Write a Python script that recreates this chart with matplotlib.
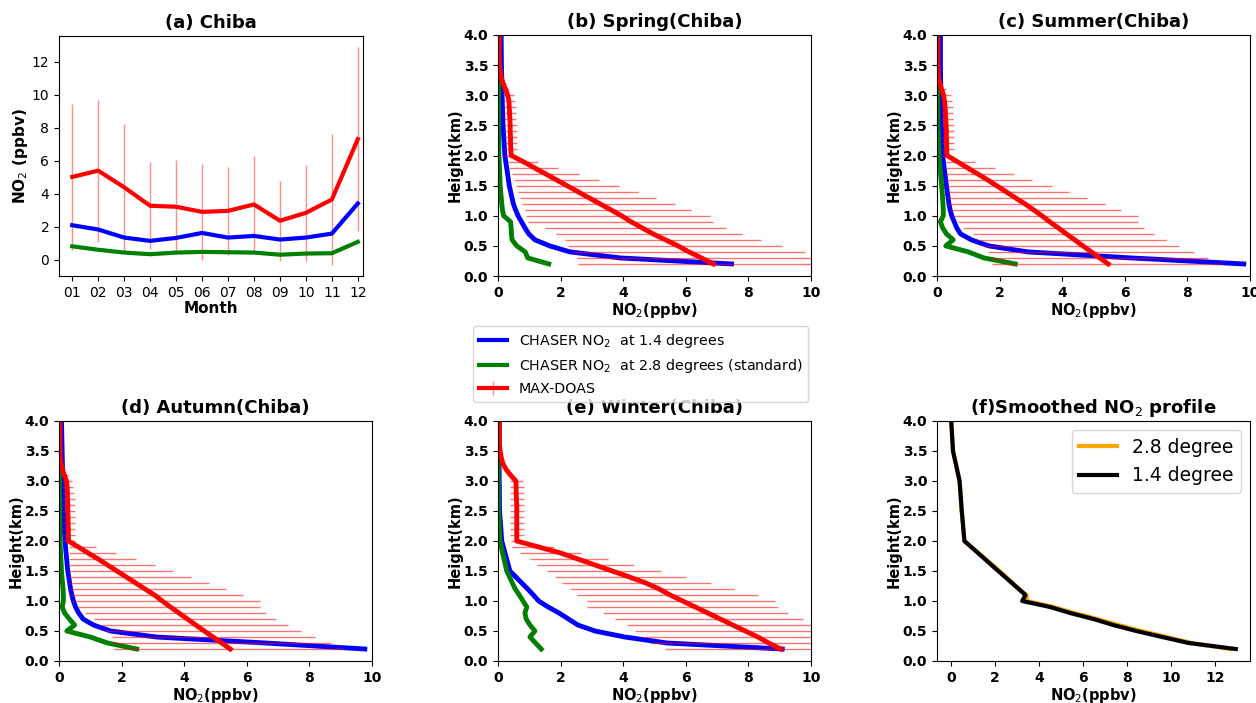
import numpy as np
import matplotlib
matplotlib.use("Agg")
import matplotlib.pyplot as plt

# ---- data ----
months = ["01", "02", "03", "04", "05", "06", "07", "08", "09", "10", "11", "12"]
m_doas = [5.02, 5.40, 4.39, 3.27, 3.21, 2.90, 2.96, 3.35, 2.36, 2.84, 3.65, 7.31]
m_doas_err = [4.42, 4.30, 3.85, 2.64, 2.85, 2.93, 2.66, 2.94, 2.43, 2.93, 3.98, 5.60]
m_chaser14 = [2.09, 1.83, 1.34, 1.14, 1.32, 1.62, 1.34, 1.44, 1.22, 1.34, 1.58, 3.41]
m_chaser28 = [0.81, 0.60, 0.43, 0.33, 0.43, 0.47, 0.45, 0.43, 0.30, 0.37, 0.39, 1.08]

# MAX-DOAS retrieval heights (km)
h_obs = [0.2, 0.3, 0.4, 0.5, 0.6, 0.7, 0.8, 0.9, 1.0, 1.1, 1.2, 1.3, 1.4, 1.5, 1.6, 1.7, 1.8, 1.9,
         2.0, 2.1, 2.2, 2.3, 2.4, 2.5, 2.6, 2.7, 2.8, 2.9,
         3.0, 3.1, 3.2, 3.3, 3.4, 3.5, 3.6, 3.7, 3.8, 3.9, 4.0]
# CHASER model heights (km)
h_mod = [0.2, 0.3, 0.4, 0.5, 0.6, 0.7, 0.8, 0.9, 1.0, 1.1, 1.2, 1.5, 2.0, 2.5, 3.0, 3.5, 4.0]

# spring
sp_doas = [6.88, 6.50, 6.10, 5.75, 5.35, 4.95, 4.60, 4.25, 3.95, 3.60, 3.25, 2.90, 2.55, 2.20, 1.85, 1.50, 1.15, 0.80,
           0.42, 0.41, 0.40, 0.40, 0.39, 0.39, 0.38, 0.37, 0.36, 0.35,
           0.31, 0.24, 0.16, 0.10, 0.07, 0.05, 0.04, 0.04, 0.04, 0.04, 0.04]
sp_lo = [2.56, 2.51, 2.35, 2.24, 2.14, 1.85, 1.50, 0.97, 0.91, 0.86, 0.76, 0.70, 0.63, 0.56, 0.52, 0.44, 0.35, 0.31,
         0.20, 0.20, 0.20, 0.20, 0.20, 0.20, 0.20, 0.20, 0.20, 0.20,
         0.15, 0.12, 0.08, 0.10, 0.07, 0.05, 0.04, 0.04, 0.04, 0.04, 0.04]
sp_hi = [11.2, 10.5, 9.80, 9.07, 8.41, 7.80, 7.28, 6.86, 6.77, 6.18, 5.65, 5.06, 4.46, 3.86, 3.23, 2.60, 1.93, 1.29,
         0.60, 0.62, 0.60, 0.60, 0.60, 0.60, 0.58, 0.58, 0.56, 0.55,
         0.50, 0.35, 0.25, 0.10, 0.07, 0.05, 0.04, 0.04, 0.04, 0.04, 0.04]
sp_14 = [7.46, 3.90, 2.30, 1.65, 1.18, 0.98, 0.86, 0.75, 0.64, 0.56, 0.49, 0.36, 0.22, 0.16, 0.13, 0.11, 0.10]
sp_28 = [1.62, 0.95, 0.87, 0.60, 0.45, 0.43, 0.42, 0.40, 0.18, 0.14, 0.12, 0.07, 0.03, 0.02, 0.02, 0.02, 0.02]

# summer
su_doas = [5.47, 5.20, 4.93, 4.66, 4.40, 4.13, 3.87, 3.60, 3.35, 3.08, 2.80, 2.50, 2.20, 1.90, 1.60, 1.28, 0.96, 0.64,
           0.32, 0.31, 0.31, 0.30, 0.30, 0.29, 0.28, 0.27, 0.26, 0.24,
           0.21, 0.15, 0.09, 0.05, 0.04, 0.03, 0.03, 0.03, 0.03, 0.03, 0.03]
su_lo = [1.77, 1.69, 1.64, 1.50, 1.32, 1.16, 0.84, 0.68, 0.52, 0.41, 0.36, 0.33, 0.32, 0.31, 0.30, 0.30, 0.30, 0.30,
         0.12, 0.12, 0.12, 0.12, 0.12, 0.12, 0.12, 0.12, 0.12, 0.12,
         0.10, 0.08, 0.06, 0.05, 0.04, 0.03, 0.03, 0.03, 0.03, 0.03, 0.03]
su_hi = [9.10, 8.66, 8.20, 7.73, 7.33, 6.94, 6.60, 6.43, 6.43, 5.87, 5.36, 4.80, 4.22, 3.66, 3.04, 2.45, 1.85, 1.21,
         0.50, 0.55, 0.55, 0.55, 0.55, 0.55, 0.52, 0.52, 0.50, 0.48,
         0.45, 0.30, 0.20, 0.05, 0.04, 0.03, 0.03, 0.03, 0.03, 0.03, 0.03]
su_14 = [9.80, 6.20, 2.90, 1.65, 1.10, 0.75, 0.63, 0.55, 0.47, 0.42, 0.38, 0.30, 0.18, 0.14, 0.12, 0.11, 0.11]
su_28 = [2.50, 1.50, 1.00, 0.28, 0.52, 0.30, 0.18, 0.11, 0.20, 0.20, 0.19, 0.15, 0.06, 0.03, 0.02, 0.02, 0.02]

# autumn
au_doas = [5.47, 5.20, 4.92, 4.64, 4.37, 4.10, 3.83, 3.56, 3.30, 3.05, 2.75, 2.45, 2.15, 1.85, 1.55, 1.25, 0.93, 0.62,
           0.30, 0.30, 0.30, 0.29, 0.29, 0.28, 0.28, 0.27, 0.27, 0.26,
           0.24, 0.17, 0.10, 0.06, 0.04, 0.03, 0.03, 0.03, 0.03, 0.03, 0.03]
au_lo = [1.77, 1.70, 1.68, 1.47, 1.36, 1.13, 0.83, 0.62, 0.40, 0.32, 0.32, 0.32, 0.32, 0.32, 0.32, 0.32, 0.32, 0.32,
         0.08, 0.08, 0.08, 0.08, 0.08, 0.08, 0.08, 0.08, 0.08, 0.08,
         0.08, 0.07, 0.05, 0.06, 0.04, 0.03, 0.03, 0.03, 0.03, 0.03, 0.03]
au_hi = [9.10, 8.68, 8.17, 7.74, 7.32, 6.92, 6.62, 6.41, 6.41, 5.88, 5.32, 4.79, 4.23, 3.64, 3.06, 2.45, 1.83, 1.19,
         0.50, 0.52, 0.52, 0.52, 0.52, 0.52, 0.50, 0.50, 0.48, 0.46,
         0.42, 0.30, 0.18, 0.06, 0.04, 0.03, 0.03, 0.03, 0.03, 0.03, 0.03]
au_14 = [9.77, 6.60, 3.10, 1.65, 1.10, 0.77, 0.63, 0.53, 0.46, 0.41, 0.37, 0.28, 0.19, 0.14, 0.12, 0.10, 0.08]
au_28 = [2.48, 1.55, 1.00, 0.25, 0.50, 0.33, 0.18, 0.10, 0.14, 0.14, 0.13, 0.08, 0.03, 0.02, 0.01, 0.01, 0.01]

# winter
wi_doas = [9.03, 8.65, 8.30, 7.90, 7.50, 7.10, 6.70, 6.30, 5.90, 5.50, 5.15, 4.72, 4.20, 3.65, 3.10, 2.55, 2.00, 1.30,
           0.60, 0.60, 0.60, 0.60, 0.60, 0.60, 0.60, 0.59, 0.58, 0.58,
           0.57, 0.40, 0.25, 0.15, 0.10, 0.07, 0.05, 0.05, 0.05, 0.05, 0.05]
wi_lo = [5.34, 4.86, 4.64, 4.38, 4.11, 3.74, 3.36, 2.83, 2.83, 2.51, 2.30, 2.03, 1.82, 1.55, 1.24, 1.02, 0.70, 0.44,
         0.40, 0.38, 0.38, 0.38, 0.38, 0.38, 0.38, 0.38, 0.38, 0.38,
         0.38, 0.40, 0.25, 0.15, 0.10, 0.07, 0.05, 0.05, 0.05, 0.05, 0.05]
wi_hi = [12.7, 12.4, 12.0, 11.4, 10.9, 9.75, 9.25, 8.95, 8.85, 8.30, 7.55, 6.80, 6.00, 5.20, 4.35, 3.50, 2.65, 1.80,
         0.80, 0.82, 0.82, 0.82, 0.82, 0.82, 0.82, 0.82, 0.82, 0.82,
         0.80, 0.40, 0.25, 0.15, 0.10, 0.07, 0.05, 0.05, 0.05, 0.05, 0.05]
wi_14 = [9.08, 5.40, 4.05, 3.10, 2.55, 2.25, 1.95, 1.60, 1.30, 1.13, 0.95, 0.38, 0.12, 0.05, 0.04, 0.03, 0.03]
wi_28 = [1.38, 1.20, 1.02, 1.18, 1.02, 0.90, 0.86, 0.92, 0.80, 0.68, 0.55, 0.28, 0.06, 0.02, 0.01, 0.01, 0.01]

# smoothed profiles
sm_28 = [12.70, 10.95, 9.80, 8.65, 7.60, 6.65, 5.60, 4.65, 3.45, 3.42, 3.10, 2.20, 0.60, 0.48, 0.38, 0.08, 0.00]
sm_14 = [12.95, 10.80, 9.60, 8.42, 7.37, 6.47, 5.41, 4.50, 3.23, 3.38, 3.07, 2.14, 0.60, 0.48, 0.38, 0.08, 0.00]

LABEL_SIZE = 10.5

plt.rcParams.update({
    "font.family": "DejaVu Sans",
    "font.size": 10,
    "axes.labelpad": 1.0,
})

W, H = 1256, 703
fig = plt.figure(figsize=(W / 100, H / 100), dpi=100)


def px_axes(left, top, right, bottom):
    return fig.add_axes([left / W, 1 - bottom / H, (right - left) / W, (bottom - top) / H])


# ---- (a) monthly ----
ax = px_axes(59, 36, 363, 276)
x = np.arange(len(months))
h_doas = ax.errorbar(x, m_doas, yerr=m_doas_err, color="red", lw=3, ecolor=(1, 0, 0, 0.45),
                     elinewidth=1, zorder=2)
h14, = ax.plot(x, m_chaser14, color="blue", lw=3, zorder=3)
h28, = ax.plot(x, m_chaser28, color="green", lw=3, zorder=3)
ax.set_xticks(x)
ax.set_xticklabels(months)
ax.set_xlim(-0.51, 11.2)
ax.set_xlabel("Month", fontweight="bold", fontsize=11)
ax.set_ylabel("NO$_2$ (ppbv)", fontweight="bold", fontsize=11)
ax.set_title("(a) Chiba", fontweight="bold", fontsize=13)

# ---- seasonal profiles ----
seasons = [
    ("(b) Spring(Chiba)", (498, 35, 811, 276), sp_doas, sp_lo, sp_hi, sp_14, sp_28),
    ("(c) Summer(Chiba)", (937, 35, 1250, 276), su_doas, su_lo, su_hi, su_14, su_28),
    ("(d) Autumn(Chiba)", (59, 421, 372, 661), au_doas, au_lo, au_hi, au_14, au_28),
    ("(e) Winter(Chiba)", (498, 421, 811, 661), wi_doas, wi_lo, wi_hi, wi_14, wi_28),
]

for title, box, doas, lo, hi, c14, c28 in seasons:
    ax = px_axes(*box)
    doas = np.array(doas)
    xerr = [doas - np.array(lo), np.array(hi) - doas]
    ax.plot(c14, h_mod, color="blue", lw=3.5)
    ax.plot(c28, h_mod, color="green", lw=3.5)
    ax.errorbar(doas, h_obs, xerr=xerr, color="red", lw=3.5, ecolor=(1, 0, 0, 0.55), elinewidth=1)
    ax.set_xlim(0, 10)
    ax.set_ylim(0, 4)
    ax.set_yticks([0, 0.5, 1.0, 1.5, 2.0, 2.5, 3.0, 3.5, 4.0])
    ax.set_xlabel("NO$_2$(ppbv)", fontweight="bold", fontsize=LABEL_SIZE)
    ax.set_ylabel("Height(km)", fontweight="bold", fontsize=LABEL_SIZE)
    ax.set_title(title, fontweight="bold", fontsize=13)
    for lab in ax.get_xticklabels() + ax.get_yticklabels():
        lab.set_fontweight("bold")

# ---- (f) smoothed ----
ax = px_axes(937, 421, 1250, 661)
ax.plot(sm_28, h_mod, color="orange", lw=3, label="2.8 degree")
ax.plot(sm_14, h_mod, color="black", lw=3, label="1.4 degree")
ax.set_ylim(0, 4)
ax.set_xticks([0, 2, 4, 6, 8, 10, 12])
ax.set_yticks([0, 0.5, 1.0, 1.5, 2.0, 2.5, 3.0, 3.5, 4.0])
ax.set_xlabel("NO$_2$(ppbv)", fontweight="bold", fontsize=LABEL_SIZE)
ax.set_ylabel("Height(km)", fontweight="bold", fontsize=LABEL_SIZE)
ax.set_title("(f)Smoothed NO$_2$ profile", fontweight="bold", fontsize=13)
for lab in ax.get_xticklabels() + ax.get_yticklabels():
    lab.set_fontweight("bold")
ax.legend(loc="upper right", fontsize=13.5)

fig.legend([h14, h28, h_doas],
           ["CHASER NO$_2$  at 1.4 degrees", "CHASER NO$_2$  at 2.8 degrees (standard)", "MAX-DOAS"],
           loc="upper left", bbox_to_anchor=(473 / W, 1 - 326 / H), borderaxespad=0, fontsize=10.3)

fig.savefig("out.png", dpi=100)
